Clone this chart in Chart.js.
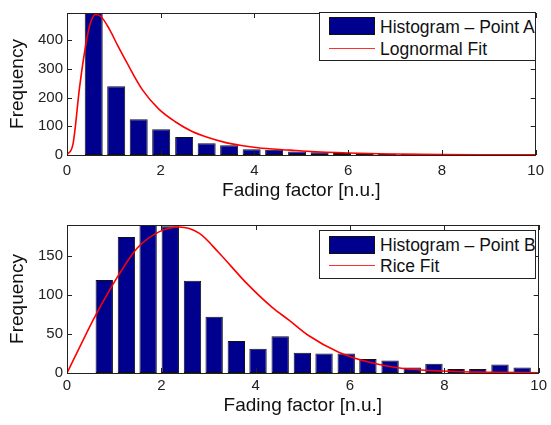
<!DOCTYPE html>
<html lang="en">
<head>
  <meta charset="UTF-8" />
  <title>Fading factor histograms</title>
  <script src="https://cdn.jsdelivr.net/npm/chart.js"></script>
  <style>
    html, body { margin: 0; padding: 0; background: #fff; }
    body { width: 551px; height: 425px; position: relative; overflow: hidden; font-family: 'Liberation Sans', Arial, sans-serif; }
    canvas { position: absolute; left: 0; }
    #c1 { top: 0; }
    #c2 { top: 212px; }
    .legenda { position: absolute; left: 319px; width: 215px; height: 47px; border: 1px solid #222; background: #fff; }
    .legenda .caixa { position: absolute; left: 9px; width: 44px; height: 16px; background: #00008f; border: 1px solid #111; }
    .legenda .linha { position: absolute; left: 9px; width: 46px; height: 0; border-top: 1.5px solid #ff3030; }
    .legenda span { position: absolute; left: 60px; font-size: 17.5px; color: #111; white-space: nowrap; line-height: 20px; }
  </style>
</head>
<body>
  <canvas id="c1" width="551" height="212"></canvas>
  <canvas id="c2" width="551" height="213"></canvas>

  <div class="legenda" style="top:12px">
    <div class="caixa" style="top:4px"></div>
    <span id="leg1a" style="top:4px"></span>
    <div class="linha" style="top:35px"></div>
    <span id="leg1b" style="top:26px"></span>
  </div>
  <div class="legenda" style="top:230px">
    <div class="caixa" style="top:5px"></div>
    <span id="leg2a" style="top:4px"></span>
    <div class="linha" style="top:34px"></div>
    <span id="leg2b" style="top:25px"></span>
  </div>

  <script>
    // Ponto A - histograma (centro das classes) e ajuste lognormal
    const centrosA = [0.57, 1.05, 1.53, 2.01, 2.50, 2.98, 3.46, 3.94, 4.42, 4.91, 5.39, 5.87, 6.35, 6.83, 7.32, 7.80, 8.28, 8.76, 9.24, 9.72];
    const contagemA = [510, 240, 125, 90, 63, 41, 34, 20, 18, 12, 10, 7, 8, 4, 4, 2, 1, 1, 3, 3];
    const lognX = [0, 0.13, 0.27, 0.41, 0.5, 0.61, 0.73, 0.91, 1.08, 1.26, 1.61, 1.96, 2.31, 2.66, 3.01, 3.37, 3.72, 4.07, 4.77, 5.12, 6, 7, 8, 9, 10];
    const lognY = [0, 40, 238, 393, 460, 490, 482, 437, 382, 327, 227, 160, 116, 83, 61, 44, 33, 25, 17, 13, 7, 3.5, 1.5, 0.8, 0.4];

    // Ponto B - histograma e ajuste Rice
    const centrosB = [0.79, 1.26, 1.72, 2.19, 2.66, 3.12, 3.59, 4.05, 4.52, 4.99, 5.45, 5.92, 6.38, 6.85, 7.32, 7.78, 8.25, 8.71, 9.18, 9.65];
    const contagemB = [119, 174, 195, 188, 118, 72, 41, 31, 47, 26, 25, 25, 18, 16, 7, 12, 5, 5, 11, 7];
    const riceX = [0, 0.3, 0.6, 1.08, 1.49, 1.96, 2.38, 2.8, 3.22, 3.79, 4.35, 4.7, 5.12, 5.75, 6.39, 7.09, 7.93, 9, 10];
    const riceY = [0, 37, 73, 124, 160, 181, 187, 179, 154, 116, 84, 68, 48, 27, 14, 6, 2.5, 0.8, 0.3];

    const ticksX = [0, 2, 4, 6, 8, 10];
    const ticksYA = [0, 100, 200, 300, 400];
    const ticksYB = [0, 50, 100, 150];

    const rotulosA = ['Histogram \u2013 Point A', 'Lognormal Fit'];
    const rotulosB = ['Histogram \u2013 Point B', 'Rice Fit'];

    document.getElementById('leg1a').textContent = rotulosA[0];
    document.getElementById('leg1b').textContent = rotulosA[1];
    document.getElementById('leg2a').textContent = rotulosB[0];
    document.getElementById('leg2b').textContent = rotulosB[1];

    const fonte = "'Liberation Sans', Arial, sans-serif";

    // caixa em volta do grafico com marcas para dentro (estilo MATLAB)
    const caixaPlugin = {
      id: 'caixa',
      afterDraw(chart) {
        const { ctx, chartArea: a, scales: { x, y } } = chart;
        ctx.save();
        ctx.strokeStyle = '#222';
        ctx.lineWidth = 1;
        ctx.beginPath();
        x.ticks.forEach((t, i) => {
          const px = Math.round(x.getPixelForTick(i)) + 0.5;
          ctx.moveTo(px, a.bottom); ctx.lineTo(px, a.bottom - 5);
          ctx.moveTo(px, a.top); ctx.lineTo(px, a.top + 5);
        });
        y.ticks.forEach((t, i) => {
          const py = Math.round(y.getPixelForTick(i)) + 0.5;
          ctx.moveTo(a.left, py); ctx.lineTo(a.left + 5, py);
          ctx.moveTo(a.right, py); ctx.lineTo(a.right - 5, py);
        });
        ctx.stroke();
        ctx.strokeRect(Math.round(a.left) + 0.5, Math.round(a.top) + 0.5, Math.round(a.width) - 1, Math.round(a.height));
        ctx.restore();
      }
    };

    function criarGrafico(id, centros, contagem, curvaX, curvaY, rotulos, yMax, yTicks, cfg) {
      return new Chart(document.getElementById(id), {
        type: 'bar',
        data: {
          datasets: [{
            type: 'line',
            label: rotulos[1],
            data: curvaX.map((v, i) => ({ x: v, y: curvaY[i] })),
            borderColor: '#ff0000',
            borderWidth: 1.6,
            pointRadius: 0,
            cubicInterpolationMode: 'monotone',
            fill: false,
            order: 0
          }, {
            type: 'bar',
            label: rotulos[0],
            data: centros.map((v, i) => ({ x: v, y: contagem[i] })),
            backgroundColor: '#00008f',
            borderColor: '#111',
            borderWidth: 1,
            borderSkipped: false,
            barPercentage: 0.8,
            categoryPercentage: 1.0,
            order: 1
          }]
        },
        options: {
          responsive: false,
          animation: false,
          layout: { padding: { top: cfg.top, right: 9.5, left: 0, bottom: 0 } },
          plugins: { legend: { display: false }, tooltip: { enabled: false } },
          scales: {
            x: {
              type: 'linear',
              offset: false,
              min: 0,
              max: 10,
              afterBuildTicks: s => { s.ticks = ticksX.map(v => ({ value: v })); },
              afterFit: s => { s.height = cfg.xAltura; },
              grid: { display: false, drawTicks: false, offset: false },
              border: { display: false },
              ticks: { color: '#222', padding: cfg.xPad, maxRotation: 0, font: { family: fonte, size: 15 } },
              title: {
                display: true,
                text: 'Fading factor [n.u.]',
                color: '#111',
                padding: { top: 0, bottom: cfg.tituloPad },
                font: { family: fonte, size: 19 }
              }
            },
            y: {
              type: 'linear',
              min: 0,
              max: yMax,
              afterBuildTicks: s => { s.ticks = yTicks.map(v => ({ value: v })); },
              afterFit: s => { s.width = 67; },
              grid: { display: false, drawTicks: false },
              border: { display: false },
              ticks: { color: '#222', padding: 4, font: { family: fonte, size: 15 } },
              title: {
                display: true,
                text: 'Frequency',
                color: '#111',
                padding: { top: 6, bottom: 0 },
                font: { family: fonte, size: 19 }
              }
            }
          }
        },
        plugins: [caixaPlugin]
      });
    }

    criarGrafico('c1', centrosA, contagemA, lognX, lognY, rotulosA, 495, ticksYA,
      { top: 6, xAltura: 57, xPad: 7, tituloPad: 10 });
    criarGrafico('c2', centrosB, contagemB, riceX, riceY, rotulosB, 189.5, ticksYB,
      { top: 11.3, xAltura: 52, xPad: 4, tituloPad: 8 });
  </script>
</body>
</html>
